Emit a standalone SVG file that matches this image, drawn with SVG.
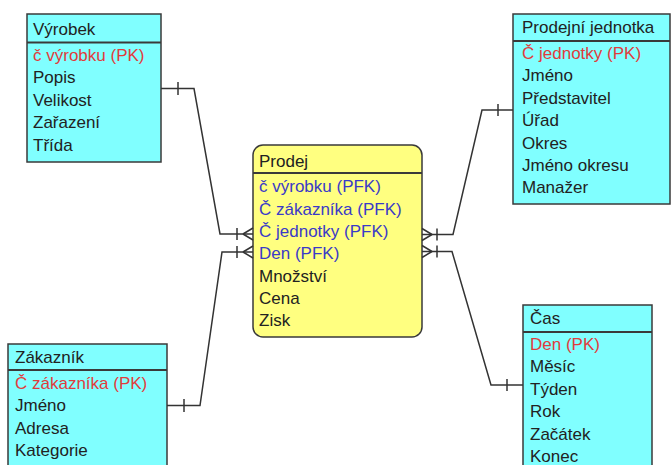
<svg xmlns="http://www.w3.org/2000/svg" width="672" height="465" viewBox="0 0 672 465">
<style>
text{font-family:"Liberation Sans",Arial,sans-serif;font-size:17px;fill:#222}
.pk{fill:#e03c3c}
.fk{fill:#3a3ac8}
.ent{fill:#80ffff;stroke:#3a3a3a;stroke-width:1.5}
.fact{fill:#ffff80;stroke:#3a3a3a;stroke-width:1.5}
.div{stroke:#3a3a3a;stroke-width:2}
.con{fill:none;stroke:#333;stroke-width:1.5}
</style>
<rect width="672" height="465" fill="#fff"/>
<g id="vyrobek">
<rect class="ent" x="27" y="14" width="134" height="148"/>
<line class="div" x1="27" y1="42.5" x2="161" y2="42.5"/>
<text x="33" y="35">Výrobek</text>
<text class="pk" x="33" y="60.5">č výrobku (PK)</text>
<text x="33" y="83">Popis</text>
<text x="33" y="105.5">Velikost</text>
<text x="33" y="128">Zařazení</text>
<text x="33" y="150.5">Třída</text>
</g>
<g id="zakaznik">
<rect class="ent" x="8" y="344" width="159" height="140"/>
<line class="div" x1="8" y1="370" x2="167" y2="370"/>
<text x="15" y="363">Zákazník</text>
<text class="pk" x="15" y="388.5">Č zákazníka (PK)</text>
<text x="15" y="411">Jméno</text>
<text x="15" y="433.5">Adresa</text>
<text x="15" y="456">Kategorie</text>
</g>
<g id="prodej">
<rect class="fact" x="253" y="145" width="169" height="192" rx="10" ry="10"/>
<line class="div" x1="253" y1="173" x2="422" y2="173"/>
<text x="259" y="167">Prodej</text>
<text class="fk" x="259" y="192">č výrobku (PFK)</text>
<text class="fk" x="259" y="214.5">Č zákazníka (PFK)</text>
<text class="fk" x="259" y="237">Č jednotky (PFK)</text>
<text class="fk" x="259" y="259">Den (PFK)</text>
<text x="259" y="281.5">Množství</text>
<text x="259" y="304">Cena</text>
<text x="259" y="326">Zisk</text>
</g>
<g id="jednotka">
<rect class="ent" x="513" y="14" width="157" height="190"/>
<line class="div" x1="513" y1="41" x2="670" y2="41"/>
<text x="522" y="33">Prodejní jednotka</text>
<text class="pk" x="522" y="58.5">Č jednotky (PK)</text>
<text x="522" y="81">Jméno</text>
<text x="522" y="103.5">Představitel</text>
<text x="522" y="126">Úřad</text>
<text x="522" y="148.5">Okres</text>
<text x="522" y="171">Jméno okresu</text>
<text x="522" y="193">Manažer</text>
</g>
<g id="cas">
<rect class="ent" x="523" y="305" width="129" height="180"/>
<line class="div" x1="523" y1="332" x2="652" y2="332"/>
<text x="530" y="324">Čas</text>
<text class="pk" x="530" y="349.5">Den (PK)</text>
<text x="530" y="372">Měsíc</text>
<text x="530" y="395">Týden</text>
<text x="530" y="417">Rok</text>
<text x="530" y="439.5">Začátek</text>
<text x="530" y="462">Konec</text>
</g>
<g id="connectors" class="con">
<path d="M161,88.5 H194 L220,234 H253"/>
<path d="M178,82 V95"/>
<path d="M237,228 V240 M243,234 L253,228 M243,234 L253,240"/>
<path d="M167,405.5 H200 L222,252 H253"/>
<path d="M184,399 V412"/>
<path d="M237,246 V258 M243,252 L253,246 M243,252 L253,258"/>
<path d="M513,110 H482 L453,234.5 H422"/>
<path d="M498,104 V116"/>
<path d="M437,228.5 V240.5 M432,234.5 L422,228.5 M432,234.5 L422,240.5"/>
<path d="M523,385 H491 L452,251.5 H422"/>
<path d="M507,379 V391"/>
<path d="M437,245.5 V257.5 M432,251.5 L422,245.5 M432,251.5 L422,257.5"/>
</g>
</svg>
